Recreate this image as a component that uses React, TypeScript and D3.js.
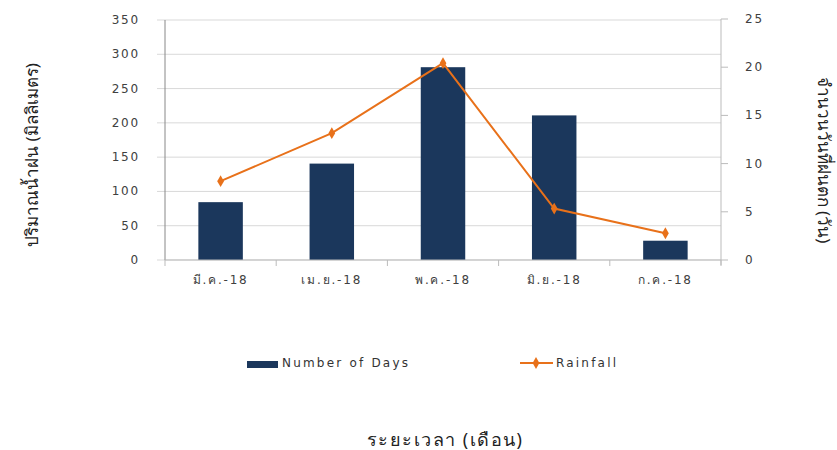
import React from "react";
import * as d3 from "d3";

const categories = ["มี.ค.-18", "เม.ย.-18", "พ.ค.-18", "มิ.ย.-18", "ก.ค.-18"];
const days = [6, 10, 20, 15, 2];
const rainfall = [115, 185, 287, 75, 39];
const leftTicks = [0, 50, 100, 150, 200, 250, 300, 350];
const rightTicks = [0, 5, 10, 15, 20, 25];

const W = 837;
const H = 450;
const left = 165;
const right = 721;
const top = 20;
const bottom = 260;
const FONT = "'DejaVu Sans', 'Noto Sans', sans-serif";
const TFONT = "'Noto Sans', 'DejaVu Sans', sans-serif";
const BAR = "#1b375c";
const LINE = "#e8711a";

export default function App() {
  const x = d3.scaleBand<string>().domain(categories).range([left, right]).paddingInner(0.6).paddingOuter(0.3);
  const xb = d3.scaleBand<string>().domain(categories).range([left, right]);
  const yL = d3.scaleLinear().domain([0, 350]).range([bottom, top]);
  const yR = d3.scaleLinear().domain([0, 25]).range([bottom, top - 1]);
  const line = d3
    .line<number>()
    .x((_, i) => (xb(categories[i]) as number) + xb.bandwidth() / 2)
    .y((d) => yL(d));
  const diamond = d3.symbol().type(d3.symbolDiamond).size(40)();
  const boundaries = categories.map((c) => xb(c) as number).concat([right]);

  return (
    <svg width={W} height={H} style={{ position: "absolute", left: 0, top: 0, background: "#fff" }} fontFamily={FONT}>
      {leftTicks.map((t) => (
        <g key={"g" + t}>
          <line x1={left - 8} x2={right} y1={yL(t)} y2={yL(t)} stroke="#d9d9d9" strokeWidth={1} />
          <text x={140} y={yL(t) + 4} textAnchor="end" fontSize={12} letterSpacing={1.8} fill="#404040">
            {t}
          </text>
        </g>
      ))}
      {categories.map((c, i) => (
        <rect key={c} x={x(c)} y={yR(days[i])} width={x.bandwidth()} height={bottom - yR(days[i])} fill={BAR} />
      ))}
      <line x1={left} x2={left} y1={top} y2={bottom} stroke="#888" />
      <line x1={right} x2={right} y1={top - 1} y2={bottom + 5} stroke="#bbb" />
      <line x1={left} x2={right} y1={bottom} y2={bottom} stroke="#bbb" />
      {boundaries.map((b, i) => (
        <line key={"b" + i} x1={b} x2={b} y1={bottom} y2={bottom + 6} stroke="#bbb" />
      ))}
      {rightTicks.map((t) => (
        <g key={"r" + t}>
          <line x1={right} x2={right + 7} y1={yR(t)} y2={yR(t)} stroke="#bbb" />
          <text x={745} y={yR(t) + 4} fontSize={12} letterSpacing={1.8} fill="#404040">
            {t}
          </text>
        </g>
      ))}
      {categories.map((c) => (
        <text key={"l" + c} x={(xb(c) as number) + xb.bandwidth() / 2} y={284} textAnchor="middle" fontSize={12} letterSpacing={1.8} fill="#404040">
          {c}
        </text>
      ))}
      <path d={line(rainfall) as string} fill="none" stroke={LINE} strokeWidth={2} />
      {rainfall.map((r, i) => (
        <path
          key={"m" + i}
          d={diamond as string}
          transform={`translate(${(xb(categories[i]) as number) + xb.bandwidth() / 2},${yL(r)})`}
          fill={LINE}
        />
      ))}
      <text transform="translate(38,155) rotate(-90)" textAnchor="middle" fontSize={17} fontFamily={TFONT} fill="#222">
        ปริมาณน้ำฝน (มิลลิเมตร)
      </text>
      <text transform="translate(818,160) rotate(90)" textAnchor="middle" fontSize={17} fontFamily={TFONT} fill="#222">
        จำนวนวันที่ฝนตก (วัน)
      </text>
      <text x={445} y={446} textAnchor="middle" fontSize={18} letterSpacing={1.5} fontFamily={TFONT} fill="#222">
        ระยะเวลา (เดือน)
      </text>
      <rect x={247} y={361} width={31} height={7} fill={BAR} />
      <text x={282} y={367} fontSize={12} letterSpacing={2.2} fill="#333">
        Number of Days
      </text>
      <line x1={520} x2={553} y1={363} y2={363} stroke={LINE} strokeWidth={2} />
      <path d={diamond as string} transform="translate(536,363)" fill={LINE} />
      <text x={556} y={367} fontSize={12} letterSpacing={2.2} fill="#333">
        Rainfall
      </text>
    </svg>
  );
}
